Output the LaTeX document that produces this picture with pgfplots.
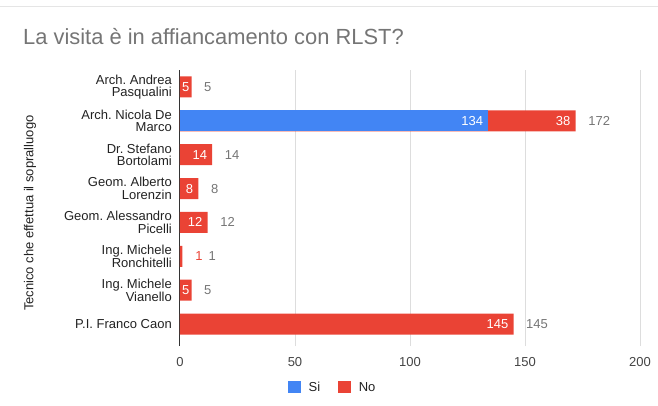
\documentclass[border=0pt]{standalone}
\usepackage{pgfplots}
\pgfplotsset{compat=1.18}
\usepackage{pgfplotstable}
\usepackage{fontspec}
\setmainfont{Liberation Sans}
\frenchspacing
\definecolor{gblue}{HTML}{4285F4}
\definecolor{gred}{HTML}{EA4335}
\definecolor{titlegray}{HTML}{757575}
\definecolor{labgray}{HTML}{757575}
\definecolor{txt}{HTML}{222222}
\definecolor{ticktxt}{HTML}{444444}
\definecolor{gridc}{HTML}{DDDDDD}
\definecolor{zeroc}{HTML}{333333}

% y: row index (0 = top), Si, No, Tot = Si + No
\pgfplotstableread{
y Si No Tot
0 0 5 5
1 134 38 172
2 0 14 14
3 0 8 8
4 0 12 12
5 0 1 1
6 0 5 5
7 0 145 145
}\datatable
% inside labels of the No segments (placed at segment end)
\pgfplotstableread{
y Tot No
1 172 38
2 14 14
3 8 8
4 12 12
7 145 145
}\nolab
\pgfplotstableread{
y Tot No
0 5 5
6 5 5
}\nosmall
\pgfplotstableread{
y Si
1 134
}\silab
\pgfplotstableread{
y Tot
0 5
1 172
2 14
3 8
4 12
6 5
7 145
}\totlab
\pgfplotstableread{
y Tot
5 1
}\onelab

\begin{document}
\begin{tikzpicture}[x=1pt,y=1pt]
\useasboundingbox (0,0) rectangle (658,406);
\draw[color=black!10, line width=0.8pt] (0,399.5) -- (658,399.5);
\node[anchor=base west, inner sep=0pt, text=titlegray, font=\fontsize{21.9}{26}\selectfont] at (23,361) {La visita è in affiancamento con RLST?};
\begin{axis}[
  at={(180pt,65pt)}, anchor=south west,
  scale only axis, width=460pt, height=271pt,
  xmin=0, xmax=200, ymin=-0.5, ymax=7.5, y dir=reverse,
  /pgf/number format/assume math mode=true,
  axis line style={draw=none},
  xtick={50,100,150,200},
  extra x ticks={0},
  extra x tick style={grid style={draw=zeroc, line width=1pt}, major tick style={draw=zeroc, line width=1pt}},
  xmajorgrids, grid style={draw=gridc, line width=1pt},
  tick align=outside, major tick length=5pt,
  xtick pos=bottom,
  major tick style={draw=gridc, line width=1pt},
  xticklabel style={font=\fontsize{13}{15}\selectfont, text=ticktxt, inner sep=0pt, yshift=-11pt},
  ytick={0,...,7},
  yticklabels={{Arch. Andrea\\Pasqualini},{Arch. Nicola De\\Marco},{Dr. Stefano\\Bortolami},{Geom. Alberto\\Lorenzin},{Geom. Alessandro\\Picelli},{Ing. Michele\\Ronchitelli},{Ing. Michele\\Vianello},{P.I. Franco Caon}},
  ytick style={draw=none},
  yticklabel style={align=right, font=\fontsize{13}{12.5}\selectfont, text=txt, inner sep=0pt, xshift=-3pt},
  ylabel={Tecnico che effettua il sopralluogo},
  ylabel style={at={(axis description cs:-0.326,0.472)}, anchor=center, font=\fontsize{13}{15}\selectfont, text=txt},
  legend style={at={(axis description cs:0.330,-0.170)}, anchor=center, draw=none, fill=none,
    legend columns=-1, font=\fontsize{13}{15}\selectfont, text=txt,
    nodes={inner sep=0pt},
    /tikz/every odd column/.append style={column sep=8pt},
    /tikz/every even column/.append style={column sep=18pt}},
  legend image code/.code={\fill[#1] (0pt,-6pt) rectangle (12.5pt,6.5pt);},
]
% bars: red = full length (Si+No), blue = Si part drawn over it
\addplot[xbar, bar width=21pt, bar shift=0pt, fill=gred, draw=none, forget plot] table[x=Tot, y=y] {\datatable};
\addplot[xbar, bar width=21pt, bar shift=0pt, fill=gblue, draw=none, forget plot] table[x=Si, y=y] {\silab};
% value labels
\addplot[draw=none, forget plot, point meta=explicit, nodes near coords,
  every node near coord/.style={anchor=east, inner sep=0pt, xshift=-5pt, text=white, font=\fontsize{13}{15}\selectfont}]
  table[x=Tot, y=y, meta=No] {\nolab};
\addplot[draw=none, forget plot, point meta=explicit, nodes near coords,
  every node near coord/.style={anchor=center, inner sep=0pt, xshift=-5.75pt, text=white, font=\fontsize{13}{15}\selectfont}]
  table[x=Tot, y=y, meta=No] {\nosmall};
\addplot[draw=none, forget plot, point meta=explicit, nodes near coords,
  every node near coord/.style={anchor=east, inner sep=0pt, xshift=-5pt, text=white, font=\fontsize{13}{15}\selectfont}]
  table[x=Si, y=y, meta=Si] {\silab};
\addplot[draw=none, forget plot, point meta=explicit, nodes near coords,
  every node near coord/.style={anchor=west, inner sep=0pt, xshift=12.5pt, text=labgray, font=\fontsize{13}{15}\selectfont}]
  table[x=Tot, y=y, meta=Tot] {\totlab};
\addplot[draw=none, forget plot, point meta=explicit, nodes near coords,
  every node near coord/.style={anchor=west, inner sep=0pt, xshift=13pt, text=gred, font=\fontsize{13}{15}\selectfont}]
  table[x=Tot, y=y, meta=Tot] {\onelab};
\addplot[draw=none, forget plot, point meta=explicit, nodes near coords,
  every node near coord/.style={anchor=west, inner sep=0pt, xshift=26pt, text=labgray, font=\fontsize{13}{15}\selectfont}]
  table[x=Tot, y=y, meta=Tot] {\onelab};
\addlegendimage{fill=gblue, draw=none}
\addlegendentry{Si}
\addlegendimage{fill=gred, draw=none}
\addlegendentry{No}
\end{axis}
\end{tikzpicture}
\end{document}
